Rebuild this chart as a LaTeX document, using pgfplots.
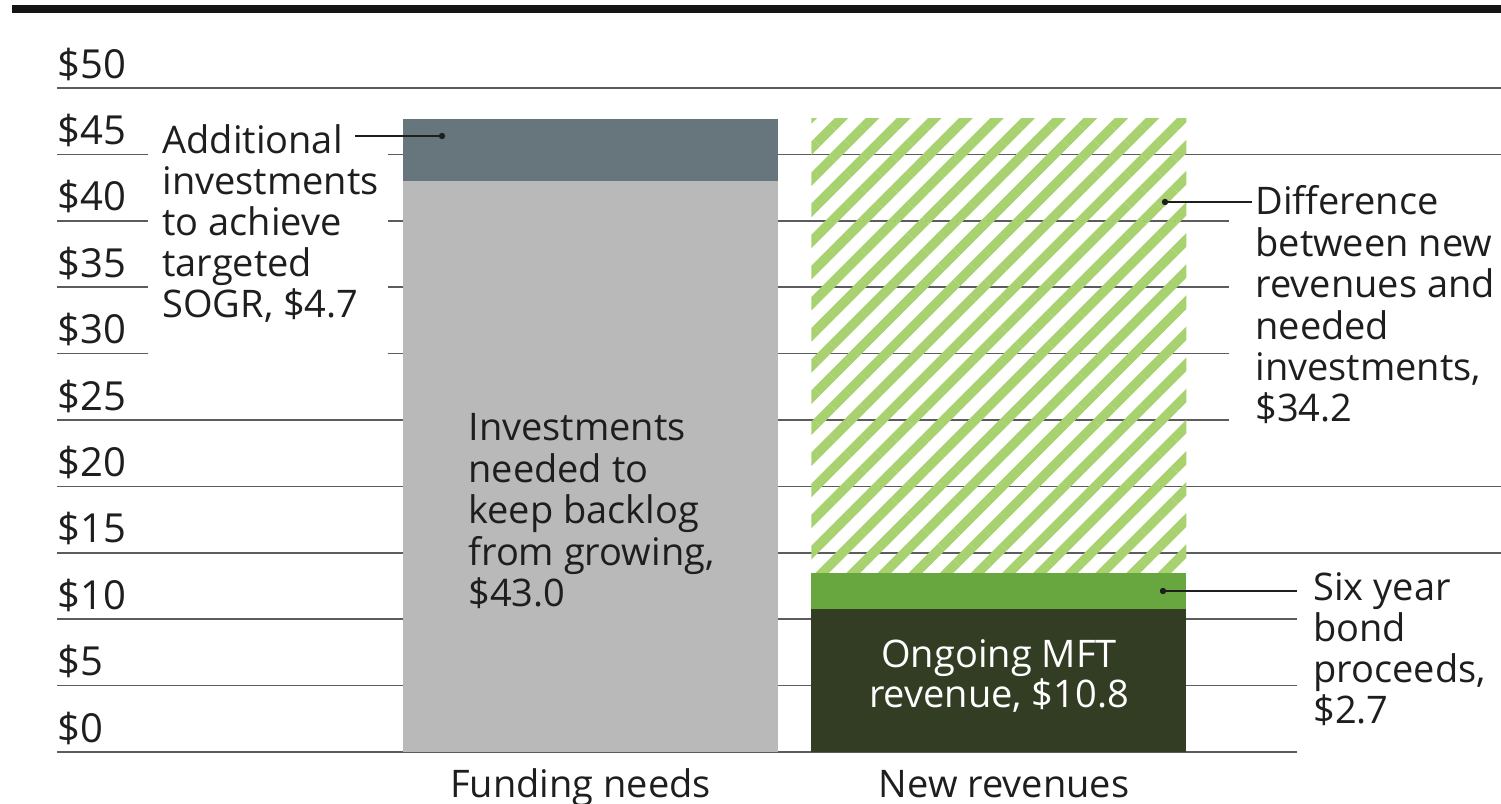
\documentclass[border=0pt]{standalone}
\usepackage{pgfplots}
\pgfplotsset{compat=1.18}
\usetikzlibrary{patterns.meta}
\usepackage{fontspec}
\setmainfont{Open Sans}

\definecolor{ink}{HTML}{1E1E1E}
\definecolor{gridc}{HTML}{5C5C5C}
\definecolor{slate}{HTML}{67757C}
\definecolor{lgray}{HTML}{B9B9B9}
\definecolor{stripe}{HTML}{A8D16F}
\definecolor{bgreen}{HTML}{68A740}
\definecolor{olive}{HTML}{333D23}

\pgfdeclarelayer{bg}
\pgfsetlayers{bg,main}

\begin{document}
\begin{tikzpicture}[font=\fontsize{19}{21}\selectfont,text=ink]
\begin{axis}[
  scale only axis, width=722pt, height=332pt,
  xmin=-1.306, xmax=2.229, ymin=0, ymax=50,
  axis line style={draw=none}, major tick length=0pt,
  ybar stacked, bar width=0.918,
  ytick={0,5,...,50},
  yticklabel={\$\pgfmathprintnumber{\tick}},
  /pgf/number format/assume math mode=true,
  yticklabel style={anchor=base west, inner sep=0pt, yshift=5pt,
    font=\fontsize{20}{22}\selectfont},
  xtick={0,1},
  xticklabels={\hspace*{-10pt}Funding needs, \hspace*{5pt}New revenues},
  xticklabel style={anchor=base, inner sep=0pt, yshift=-22.5pt,
    font=\fontsize{19}{21}\selectfont},
  ticklabel style={text=ink},
]
\addplot[fill=lgray, draw=none] coordinates {(0,43.0) (1,0)};
\addplot[fill=slate, draw=none] coordinates {(0,4.7) (1,0)};
\addplot[fill=olive, draw=none] coordinates {(0,0) (1,10.8)};
\addplot[fill=bgreen, draw=none] coordinates {(0,0) (1,2.7)};
\addplot[draw=none, pattern={Lines[angle=45,distance=11pt,line width=4.8pt]},
  pattern color=stripe] coordinates {(0,0) (1,34.2)};
\coordinate (O) at (rel axis cs:0,0);
\end{axis}

% everything else in reference pixels (origin bottom left), pinned to the axis corner
\begin{scope}[shift={(O)}, x=0.5pt, y=0.5pt, shift={(-57,-52)}]
\fill[black!92] (12,791) rectangle (1501,799);

\begin{pgfonlayer}{bg}
\begin{scope}[gridc, line width=0.8pt]
\foreach \v/\a/\b in {50/57/1501, 45/57/148, 45/388/1501, 40/57/148, 40/388/1229,
    35/57/148, 35/388/1229, 30/57/148, 30/388/1229, 25/57/1229, 20/57/1501,
    15/57/1501, 10/57/1297, 5/57/1297, 0/57/1297}
  \draw (\a,{52+13.28*\v}) -- (\b,{52+13.28*\v});
\end{scope}
\end{pgfonlayer}

\begin{scope}[ink, line width=0.75pt]
\draw (355,668) -- (442,668); \fill (442,668) circle (1.6pt);
\draw (1165,602) -- (1252,602); \fill (1165,602) circle (1.6pt);
\draw (1163,213) -- (1297,213); \fill (1163,213) circle (1.6pt);
\end{scope}

\foreach \s [count=\i from 0] in {Additional, investments, to achieve, targeted, {SOGR, \$4.7}}
  \node[anchor=base west, inner sep=0pt] at (162,{650-41*\i}) {\s};
\foreach \s [count=\i from 0] in {Investments, needed to, keep backlog, {from growing,}, \$43.0}
  \node[anchor=base west, inner sep=0pt] at (468,{363-41.5*\i}) {\s};
\foreach \s [count=\i from 0] in {Difference, between new, revenues and, needed, {investments,}, \$34.2}
  \node[anchor=base west, inner sep=0pt] at (1255,{589-41.4*\i}) {\s};
\foreach \s [count=\i from 0] in {Six year, bond, {proceeds,}, \$2.7}
  \node[anchor=base west, inner sep=0pt] at (1313,{203-41*\i}) {\s};
\node[anchor=base, inner sep=0pt, text=white] at (999,136) {Ongoing MFT};
\node[anchor=base, inner sep=0pt, text=white] at (999,96) {revenue, \$10.8};

\pgfresetboundingbox
\path (0,0) rectangle (1501,804);
\end{scope}
\end{tikzpicture}
\end{document}
